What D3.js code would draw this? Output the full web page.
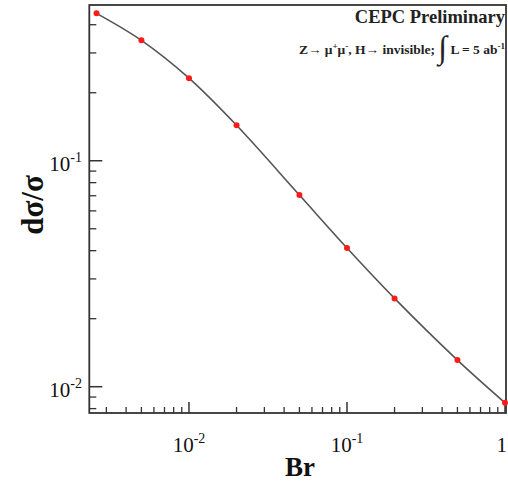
<!DOCTYPE html>
<html><head><meta charset="utf-8">
<script src="https://cdn.jsdelivr.net/npm/d3@7"></script>
<style>body{margin:0;background:#fff}svg{display:block}</style>
</head><body>
<svg id="c" width="508" height="483"></svg>
<script>
const br = [0.0026, 0.005, 0.01, 0.02, 0.05, 0.1, 0.2, 0.5, 1.0];
const dsig = [0.449, 0.341, 0.232, 0.1435, 0.0705, 0.0411, 0.0246, 0.01312, 0.00849];
const xTickVals = [0.01, 0.1, 1];
const xTickExp = ["-2", "-1", ""];
const yTickVals = [0.01, 0.1];
const yTickExp = ["-2", "-1"];
const titleText = "CEPC Preliminary";

const svg = d3.select("#c");
const L = 89.3, R = 506, T = 5, B = 413;
const x = d3.scaleLog().domain([0.00234, 1.0146]).range([L, R]);
const y = d3.scaleLog().domain([0.00765, 0.489]).range([B, T]);
const font = "'Liberation Serif','Times New Roman',serif";
const axCol = "#333";

const xMinor = [], yMinor = [];
[0.001,0.01,0.1].forEach(d=>{for(let k=2;k<=9;k++){const v=d*k; if(v>x.domain()[0]&&v<x.domain()[1]) xMinor.push(v);}});
[0.001,0.01,0.1].forEach(d=>{for(let k=2;k<=9;k++){const v=d*k; if(v>y.domain()[0]&&v<y.domain()[1]) yMinor.push(v);}});

const g = svg.append("g");
g.selectAll(".xmaj").data(xTickVals).join("line")
  .attr("x1",d=>x(d)).attr("x2",d=>x(d)).attr("y1",B).attr("y2",B-11)
  .attr("stroke",axCol).attr("stroke-width",1.5);
g.selectAll(".xmin").data(xMinor).join("line")
  .attr("x1",d=>x(d)).attr("x2",d=>x(d)).attr("y1",B).attr("y2",B-6)
  .attr("stroke",axCol).attr("stroke-width",1.3);
g.selectAll(".ymaj").data(yTickVals).join("line")
  .attr("y1",d=>y(d)).attr("y2",d=>y(d)).attr("x1",L).attr("x2",L+13)
  .attr("stroke",axCol).attr("stroke-width",1.5);
g.selectAll(".ymin").data(yMinor).join("line")
  .attr("y1",d=>y(d)).attr("y2",d=>y(d)).attr("x1",L).attr("x2",L+7)
  .attr("stroke",axCol).attr("stroke-width",1.3);

svg.append("rect").attr("x",L).attr("y",T).attr("width",R-L).attr("height",B-T)
  .attr("fill","none").attr("stroke",axCol).attr("stroke-width",1.8);

xTickVals.forEach((v,i)=>{
  const t = svg.append("text").attr("font-family",font).attr("font-size",21).attr("fill","#111");
  if (xTickExp[i]) {
    t.attr("x",x(v)).attr("y",452).attr("text-anchor","middle");
    t.append("tspan").text("10");
    t.append("tspan").text(xTickExp[i]).attr("font-size",14).attr("dy",-9);
  } else {
    t.attr("x",507).attr("y",452).attr("text-anchor","end").text("1");
  }
});
yTickVals.forEach((v,i)=>{
  const t = svg.append("text").attr("x",82).attr("y",y(v)+10).attr("text-anchor","end")
    .attr("font-family",font).attr("font-size",21).attr("fill","#111");
  t.append("tspan").text("10");
  t.append("tspan").text(yTickExp[i]).attr("font-size",14).attr("dy",-9);
});

svg.append("text").attr("x",300).attr("y",476).attr("text-anchor","middle")
  .attr("font-family",font).attr("font-weight","bold").attr("font-size",27).attr("fill","#111").text("Br");
svg.append("text").attr("transform","translate(43,205) rotate(-90)").attr("text-anchor","middle")
  .attr("font-family",font).attr("font-weight","bold").attr("font-size",31).attr("fill","#111").text("dσ/σ");

const pts = br.map((b,i)=>[x(b), y(dsig[i])]);
svg.append("path").attr("d", d3.line().curve(d3.curveCatmullRom)(pts))
  .attr("fill","none").attr("stroke","#555").attr("stroke-width",1.6);
svg.selectAll(".pt").data(pts).join("circle")
  .attr("cx",d=>d[0]).attr("cy",d=>d[1]).attr("r",3).attr("fill","#ff1a1a");

svg.append("text").attr("x",505).attr("y",23).attr("text-anchor","end")
  .attr("font-family",font).attr("font-weight","bold").attr("font-size",18.5).attr("fill","#222").text(titleText);
const a = svg.append("text").attr("x",505).attr("y",54).attr("text-anchor","end")
  .attr("font-family",font).attr("font-weight","bold").attr("font-size",13.5).attr("fill","#222");
a.append("tspan").text("Z→  μ");
a.append("tspan").text("+").attr("font-size",9).attr("dy",-5);
a.append("tspan").text("μ").attr("dy",5);
a.append("tspan").text("-").attr("font-size",9).attr("dy",-5);
a.append("tspan").text(", H→ invisible;  ").attr("dy",5);
a.append("tspan").text("∫").attr("font-size",32).attr("font-weight","normal").attr("dy",4);
a.append("tspan").text(" L = 5 ab").attr("dy",-4);
a.append("tspan").text("-1").attr("font-size",9).attr("dy",-5);
</script>
</body></html>
